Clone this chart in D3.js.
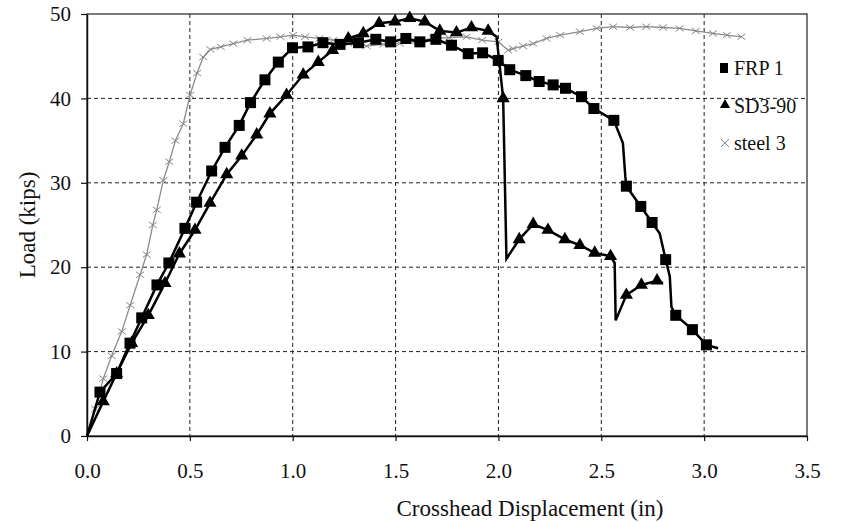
<!DOCTYPE html>
<html>
<head>
<meta charset="utf-8">
<script src="https://cdn.jsdelivr.net/npm/d3@7"></script>
<style>
  body { margin: 0; background: #fff; }
  text { font-family: "Liberation Serif", "Times New Roman", serif; fill: #111; }
</style>
</head>
<body>
<svg width="844" height="522"></svg>
<script>
// Data: [displacement (in), load (kips), marker shown?]
var frp1 = [
  [0, 0, 0], [0.063, 5.2, 1], [0.144, 7.4, 1], [0.209, 11.0, 1], [0.266, 14.0, 1],
  [0.340, 17.9, 1], [0.398, 20.5, 1], [0.476, 24.6, 1], [0.533, 27.7, 1], [0.606, 31.4, 1],
  [0.671, 34.2, 1], [0.740, 36.8, 1], [0.795, 39.5, 1], [0.865, 42.2, 1], [0.930, 44.3, 1],
  [0.999, 46.0, 1], [1.074, 46.1, 1], [1.147, 46.6, 1], [1.23, 46.4, 1], [1.32, 46.6, 1],
  [1.404, 47.0, 1], [1.476, 46.7, 1], [1.550, 47.1, 1], [1.618, 46.7, 1], [1.696, 47.0, 1],
  [1.772, 46.3, 1], [1.853, 45.3, 1], [1.923, 45.4, 1], [1.999, 44.5, 1], [2.055, 43.4, 1],
  [2.133, 42.7, 1], [2.198, 42.0, 1], [2.266, 41.6, 1], [2.326, 41.2, 1], [2.404, 40.2, 1],
  [2.464, 38.8, 1], [2.561, 37.4, 1], [2.605, 34.7, 0], [2.617, 30.7, 0], [2.622, 29.6, 1],
  [2.692, 27.2, 1], [2.747, 25.3, 1], [2.784, 24.0, 0], [2.813, 20.9, 1], [2.833, 18.9, 0],
  [2.841, 15.3, 0], [2.862, 14.3, 1], [2.943, 12.6, 1], [3.011, 10.8, 1], [3.068, 10.4, 0]
];

var sd390 = [
  [0, 0, 0], [0.079, 4.1, 1], [0.144, 7.4, 1], [0.217, 11.0, 1], [0.298, 14.3, 1],
  [0.379, 18.1, 1], [0.449, 21.6, 1], [0.525, 24.4, 1], [0.598, 27.6, 1], [0.679, 31.0, 1],
  [0.752, 33.2, 1], [0.825, 35.7, 1], [0.889, 38.2, 1], [0.970, 40.4, 1], [1.051, 42.8, 1],
  [1.124, 44.3, 1], [1.194, 45.7, 1], [1.270, 47.1, 1], [1.343, 47.7, 1], [1.420, 48.9, 1],
  [1.497, 49.1, 1], [1.569, 49.5, 1], [1.642, 49.1, 1], [1.715, 48.0, 1], [1.796, 47.8, 1],
  [1.869, 48.4, 1], [1.950, 48.0, 1], [1.991, 47.3, 0], [2.023, 40.0, 1], [2.039, 21.0, 0],
  [2.101, 23.3, 1], [2.169, 25.1, 1], [2.241, 24.4, 1], [2.323, 23.3, 1], [2.396, 22.6, 1],
  [2.468, 21.7, 1], [2.545, 21.3, 1], [2.565, 20.5, 0], [2.570, 13.7, 0], [2.622, 16.7, 1],
  [2.695, 17.9, 1], [2.771, 18.4, 1], [2.800, 18.1, 0]
];

var steel3 = [
  [0, 0], [0.04, 3.2], [0.079, 6.8], [0.12, 9.5], [0.169, 12.4], [0.21, 15.5],
  [0.258, 19.1], [0.29, 21.5], [0.32, 25.0], [0.339, 26.8], [0.371, 30.3], [0.40, 32.5],
  [0.43, 35.0], [0.468, 37.0], [0.501, 40.4], [0.535, 43.0], [0.565, 44.9], [0.60, 45.8],
  [0.65, 46.1], [0.711, 46.5], [0.78, 46.9], [0.873, 47.1], [0.94, 47.3], [1.002, 47.5],
  [1.06, 47.3], [1.13, 47.1], [1.197, 46.9], [1.27, 46.5], [1.359, 46.2], [1.44, 46.4],
  [1.521, 46.5], [1.60, 46.8], [1.683, 47.1], [1.76, 47.2], [1.845, 47.3], [1.92, 46.9],
  [2.0, 46.7], [2.047, 45.7], [2.071, 45.9], [2.12, 46.2], [2.169, 46.5], [2.234, 47.1],
  [2.30, 47.5], [2.396, 47.9], [2.477, 48.3], [2.557, 48.5], [2.64, 48.4], [2.719, 48.5],
  [2.80, 48.4], [2.881, 48.3], [2.96, 48.0], [3.043, 47.7], [3.11, 47.5], [3.181, 47.3]
];

var xTicks = [0, 0.5, 1.0, 1.5, 2.0, 2.5, 3.0, 3.5];
var yTicks = [0, 10, 20, 30, 40, 50];
var legendNames = ["FRP 1", "SD3-90", "steel 3"];

var svg = d3.select("svg"),
    margin = {top: 14, right: 37, bottom: 86, left: 87},
    w = 844 - margin.left - margin.right,
    h = 522 - margin.top - margin.bottom,
    g = svg.append("g").attr("transform", "translate(" + margin.left + "," + margin.top + ")");

var xScale = d3.scaleLinear().domain([0, 3.5]).range([0, w]);
var yScale = d3.scaleLinear().domain([0, 50]).range([h, 0]);

// dashed grid
g.selectAll(".vgrid")
  .data(xTicks.filter(function(d) { return d > 0 && d < 3.5; }))
  .enter().append("line")
  .attr("x1", function(d) { return xScale(d); })
  .attr("x2", function(d) { return xScale(d); })
  .attr("y1", 0).attr("y2", h)
  .attr("stroke", "#222").attr("stroke-width", 1).attr("stroke-dasharray", "4,3");

g.selectAll(".hgrid")
  .data(yTicks.filter(function(d) { return d > 0 && d < 50; }))
  .enter().append("line")
  .attr("x1", 0).attr("x2", w)
  .attr("y1", function(d) { return yScale(d); })
  .attr("y2", function(d) { return yScale(d); })
  .attr("stroke", "#222").attr("stroke-width", 1).attr("stroke-dasharray", "4,3");

// frame
g.append("rect")
  .attr("x", 0).attr("y", 0).attr("width", w).attr("height", h)
  .attr("fill", "none").attr("stroke", "#222").attr("stroke-width", 1.2);

// axes
var xAxis = d3.axisBottom(xScale).tickValues(xTicks).tickFormat(d3.format(".1f"))
  .tickSizeInner(5).tickSizeOuter(0).tickPadding(22);
var yAxis = d3.axisLeft(yScale).tickValues(yTicks).tickFormat(d3.format("d"))
  .tickSizeInner(6).tickSizeOuter(0).tickPadding(10);

var gx = g.append("g").attr("transform", "translate(0," + h + ")").call(xAxis);
var gy = g.append("g").call(yAxis);
[gx, gy].forEach(function(a) {
  a.select(".domain").attr("stroke", "#111").attr("stroke-width", 1.5);
  a.selectAll(".tick line").attr("stroke", "#111").attr("stroke-width", 1.2);
  a.selectAll(".tick text").style("font-size", "21px").attr("fill", "#111")
    .style("font-family", "'Liberation Serif', serif");
});

// lines
var line = d3.line()
  .x(function(d) { return xScale(d[0]); })
  .y(function(d) { return yScale(d[1]); });

g.append("path").datum(steel3).attr("d", line)
  .attr("fill", "none").attr("stroke", "#8c8c8c").attr("stroke-width", 1.3);

g.selectAll(".sx").data(steel3.slice(1)).enter().append("path")
  .attr("transform", function(d) { return "translate(" + xScale(d[0]) + "," + yScale(d[1]) + ")"; })
  .attr("d", "M-4,-3L4,3M-4,3L4,-3")
  .attr("stroke", "#888").attr("stroke-width", 1).attr("fill", "none");

g.append("path").datum(sd390).attr("d", line)
  .attr("fill", "none").attr("stroke", "#000").attr("stroke-width", 2.5);

g.append("path").datum(frp1).attr("d", line)
  .attr("fill", "none").attr("stroke", "#000").attr("stroke-width", 2.5);

var tri = d3.symbol().type(d3.symbolTriangle).size(75);
g.selectAll(".tri").data(sd390.filter(function(d) { return d[2]; })).enter().append("path")
  .attr("transform", function(d) { return "translate(" + xScale(d[0]) + "," + yScale(d[1]) + ")"; })
  .attr("d", tri).attr("fill", "#000");

g.selectAll(".sq").data(frp1.filter(function(d) { return d[2]; })).enter().append("rect")
  .attr("x", function(d) { return xScale(d[0]) - 5.5; })
  .attr("y", function(d) { return yScale(d[1]) - 5.5; })
  .attr("width", 11).attr("height", 11).attr("fill", "#000");

// legend
var leg = svg.append("g").attr("transform", "translate(724,0)");
leg.append("rect").attr("x", -4).attr("y", 63).attr("width", 8).attr("height", 10).attr("fill", "#000");
leg.append("path").attr("transform", "translate(1,105)")
  .attr("d", d3.symbol().type(d3.symbolTriangle).size(45)).attr("fill", "#000");
leg.append("path").attr("transform", "translate(1,143)")
  .attr("d", "M-4,-4L4,4M-4,4L4,-4").attr("stroke", "#888").attr("stroke-width", 1);
leg.selectAll(".lt").data(legendNames).enter().append("text")
  .attr("x", 10)
  .attr("y", function(d, i) { return [75, 113, 150][i]; })
  .style("font-size", "20px")
  .text(function(d) { return d; });

// axis titles
svg.append("text")
  .attr("transform", "translate(35," + (margin.top + h / 2) + ") rotate(-90)")
  .style("text-anchor", "middle")
  .style("font-size", "23px")
  .text("Load (kips)");

svg.append("text")
  .attr("x", margin.left + w / 2 + 83)
  .attr("y", 516)
  .style("text-anchor", "middle")
  .style("font-size", "23px")
  .text("Crosshead Displacement (in)");
</script>
</body>
</html>
